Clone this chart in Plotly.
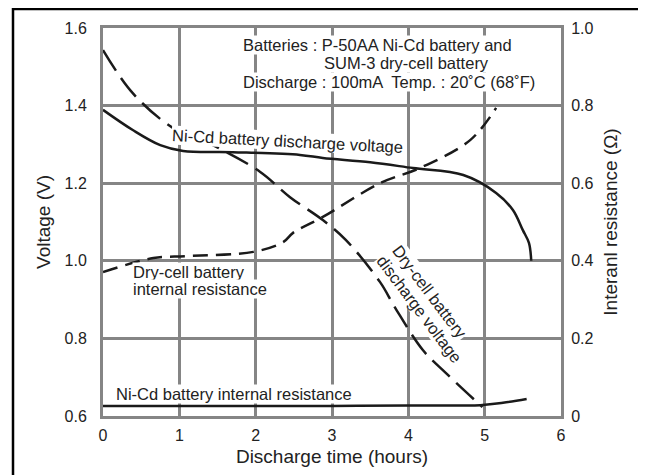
import plotly.graph_objects as go

# Ni-Cd battery discharge voltage (V, left axis)
nicd_v_t = [0.0, 0.39, 0.75, 1.05, 1.70, 2.58, 2.88, 3.50, 4.06, 4.72, 5.15, 5.37, 5.50, 5.58, 5.61]
nicd_v = [1.389, 1.337, 1.298, 1.283, 1.280, 1.273, 1.265, 1.254, 1.239, 1.221, 1.175, 1.131, 1.079, 1.046, 1.0]

# Dry-cell battery discharge voltage (V, left axis)
dry_v_t = [0.0, 0.39, 0.92, 1.49, 2.06, 2.45, 2.88, 3.18, 3.63, 3.83, 4.19, 4.49, 4.97]
dry_v = [1.543, 1.432, 1.342, 1.293, 1.229, 1.164, 1.105, 1.054, 0.945, 0.878, 0.770, 0.711, 0.623]

# Dry-cell battery internal resistance (ohm, right axis)
dry_r_t = [0.0, 0.66, 1.10, 1.97, 2.36, 2.49, 2.88, 3.63, 4.15, 4.81, 5.15]
dry_r = [0.371, 0.407, 0.412, 0.423, 0.448, 0.472, 0.513, 0.600, 0.639, 0.711, 0.794]

# Ni-Cd battery internal resistance (ohm, right axis)
nicd_r_t = [0.0, 1.0, 2.0, 3.0, 4.0, 4.94, 5.24, 5.55]
nicd_r = [0.026, 0.026, 0.026, 0.026, 0.027, 0.028, 0.034, 0.044]

x_ticks = [0, 1, 2, 3, 4, 5, 6]
v_ticks = [0.6, 0.8, 1.0, 1.2, 1.4, 1.6]
v_labels = ["0.6", "0.8", "1.0", "1.2", "1.4", "1.6"]
r_ticks = [0, 0.2, 0.4, 0.6, 0.8, 1.0]
r_labels = ["0", "0.2", "0.4", "0.6", "0.8", "1.0"]

FONT = "Liberation Sans, Arial, sans-serif"
GRID = "#858585"
INK = "#1a1a1a"
TXT = "#222222"

fig = go.Figure()
fig.add_trace(go.Scatter(x=nicd_v_t, y=nicd_v, mode="lines", line=dict(color=INK, width=2.5, shape="spline"), yaxis="y"))
fig.add_trace(go.Scatter(x=dry_v_t, y=dry_v, mode="lines", line=dict(color=INK, width=2.5, shape="spline", dash="24px,9px"), yaxis="y"))
fig.add_trace(go.Scatter(x=dry_r_t, y=dry_r, mode="lines", line=dict(color=INK, width=2.5, shape="spline", dash="15px,8px"), yaxis="y2"))
fig.add_trace(go.Scatter(x=nicd_r_t, y=nicd_r, mode="lines", line=dict(color=INK, width=2.5, shape="spline"), yaxis="y2"))

tf = dict(family=FONT, size=16.5, color=TXT)

annots = [
    dict(x=1.82, y=1.556, text="Batteries : P-50AA Ni-Cd battery and", xanchor="left"),
    dict(x=2.88, y=1.510, text="SUM-3 dry-cell battery", xanchor="left"),
    dict(x=1.82, y=1.461, text="Discharge : 100mA  Temp. : 20˚C (68˚F)", xanchor="left"),
    dict(x=2.42, y=1.309, text="Ni-Cd battery discharge voltage", xanchor="center", textangle=3),
    dict(x=0.38, y=0.971, text="Dry-cell battery", xanchor="left"),
    dict(x=0.38, y=0.927, text="internal resistance", xanchor="left"),
    dict(x=0.157, y=0.657, text="Ni-Cd battery internal resistance", xanchor="left"),
    dict(x=4.284, y=0.920, text="Dry-cell battery", xanchor="center", textangle=53),
    dict(x=4.146, y=0.876, text="discharge voltage", xanchor="center", textangle=53),
]
for a in annots:
    a.update(xref="x", yref="y", yanchor="middle", showarrow=False, font=tf, bgcolor="white", borderpad=0)
fig.update_layout(annotations=annots)

fig.add_shape(type="rect", xref="paper", yref="paper", x0=-0.1965, x1=1.1747, y0=-0.2, y1=1.049,
              line=dict(color="black", width=2.5), fillcolor="rgba(0,0,0,0)", layer="below")

fig.update_layout(
    width=638, height=467,
    margin=dict(l=95, r=85, t=20, b=59, autoexpand=False),
    paper_bgcolor="white", plot_bgcolor="white",
    showlegend=False,
    font=dict(family=FONT, color=TXT),
    xaxis=dict(range=[0, 6], tickvals=x_ticks, ticktext=[str(v) for v in x_ticks], automargin=False,
               showgrid=True, gridcolor=GRID, gridwidth=3, zeroline=False,
               showline=True, linecolor=GRID, linewidth=3, mirror=True,
               ticks="outside", ticklen=3, tickcolor="rgba(0,0,0,0)",
               tickfont=dict(family=FONT, size=16, color=TXT),
               title=dict(text="Discharge time (hours)", font=dict(family=FONT, size=19, color=TXT), standoff=7)),
    yaxis=dict(range=[0.6, 1.6], tickvals=v_ticks, ticktext=v_labels, automargin=False,
               showgrid=True, gridcolor=GRID, gridwidth=3, zeroline=False,
               showline=True, linecolor=GRID, linewidth=3, mirror=True,
               ticks="outside", ticklen=10, tickcolor="rgba(0,0,0,0)",
               tickfont=dict(family=FONT, size=16, color=TXT),
               title=dict(text="Voltage (V)", font=dict(family=FONT, size=19, color=TXT), standoff=9)),
    yaxis2=dict(range=[0, 1.0], tickvals=r_ticks, ticktext=r_labels, overlaying="y", side="right", automargin=False,
                showgrid=False, zeroline=False, showline=False,
                ticks="outside", ticklen=6, tickcolor="rgba(0,0,0,0)",
                tickfont=dict(family=FONT, size=16, color=TXT),
                title=dict(text="Interanl resistance (Ω)", font=dict(family=FONT, size=19, color=TXT), standoff=11)),
)

fig.write_html("out.html")
